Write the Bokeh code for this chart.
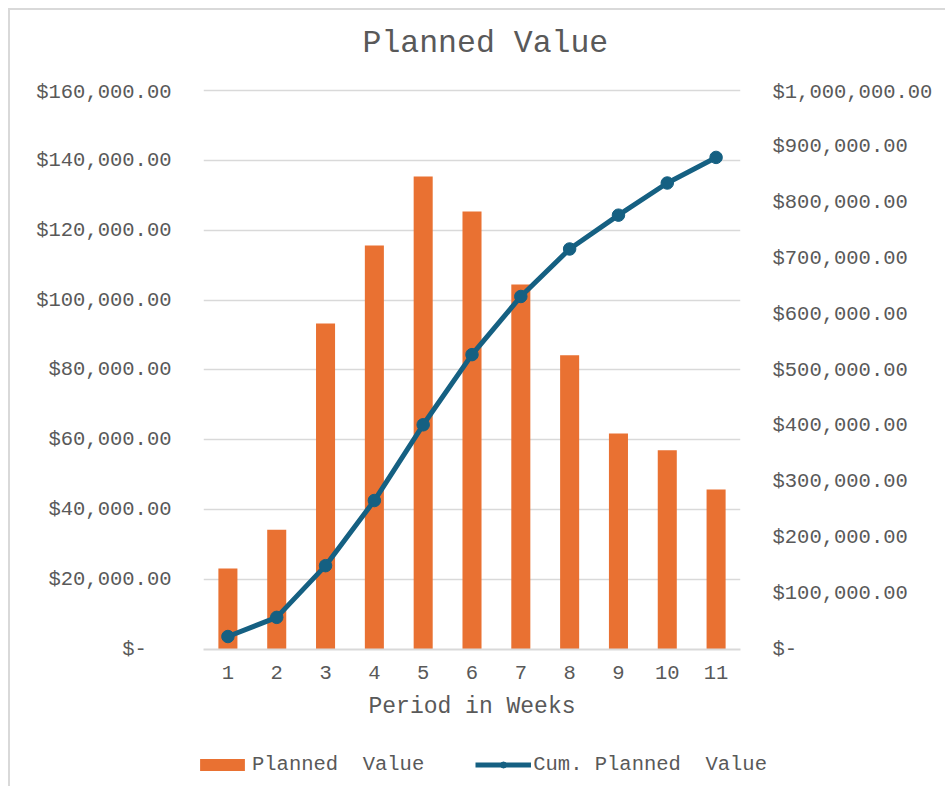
from bokeh.plotting import figure
from bokeh.layouts import column, row
from bokeh.models import (FactorRange, Range1d, LinearAxis, FixedTicker,
                          NumeralTickFormatter, Legend, LegendItem)
from bokeh.embed import file_html
from bokeh.resources import INLINE

weeks = ["1", "2", "3", "4", "5", "6", "7", "8", "9", "10", "11"]
planned_value = [23200, 34300, 93300, 115600, 135400, 125400, 104500, 84200, 61800, 57000, 45800]
cum_planned_value = [23200, 57500, 150000, 266500, 402000, 527500, 631500, 716500, 777000, 834500, 880300]
left_ticks = [0, 20000, 40000, 60000, 80000, 100000, 120000, 140000, 160000]
right_ticks = [0, 100000, 200000, 300000, 400000, 500000, 600000, 700000, 800000, 900000, 1000000]

FONT = "Liberation Mono"
TXT = "#595959"
GRID = "#D9D9D9"
ORANGE = "#E97132"
BLUE = "#156082"
FS = "20.5px"

W = 935

# title strip
tt = figure(width=W, height=70, x_range=Range1d(0, 1), y_range=Range1d(0, 1),
            output_backend="svg", toolbar_location=None, title="Planned Value",
            min_border_left=0, min_border_right=0, min_border_top=0, min_border_bottom=0)
tt.axis.visible = False
tt.grid.visible = False
tt.outline_line_color = None
tt.title.align = "left"
tt.title.offset = 352
tt.title.text_font = FONT
tt.title.text_font_size = "31.5px"
tt.title.text_font_style = "normal"
tt.title.text_color = TXT
tt.title.standoff = 27

# main chart (frame from 88 to 649 px; top grid line at 90 px)
p = figure(width=W, height=650, x_range=FactorRange(factors=weeks, range_padding=0),
           y_range=Range1d(0, 160572), output_backend="svg", toolbar_location=None,
           min_border_left=193, min_border_right=W - 730, min_border_top=8, min_border_bottom=81)
p.outline_line_color = None

p.extra_y_ranges = {"cum": Range1d(0, 1003578)}

bars = p.vbar(x=weeks, top=planned_value, width=0.39, color=ORANGE, line_color=None)
line = p.line(x=weeks, y=cum_planned_value, y_range_name="cum", line_color=BLUE, line_width=5)
pts = p.scatter(x=weeks, y=cum_planned_value, y_range_name="cum", size=12.5,
                fill_color=BLUE, line_color=BLUE)

ya = p.yaxis[0]
ya.ticker = FixedTicker(ticks=left_ticks)
ya.formatter = NumeralTickFormatter(format="$0,0.00")
ya.major_label_overrides = {0: "$-\u00a0\u00a0"}

ra = LinearAxis(y_range_name="cum", ticker=FixedTicker(ticks=right_ticks),
                formatter=NumeralTickFormatter(format="$0,0.00"))
ra.major_label_overrides = {0: "$-"}
p.add_layout(ra, "right")

for ax in (ya, ra):
    ax.axis_line_color = None
    ax.major_tick_line_color = None
    ax.minor_tick_line_color = None
    ax.major_label_text_font = FONT
    ax.major_label_text_font_size = FS
    ax.major_label_text_color = TXT
    ax.major_label_standoff = 26

xa = p.xaxis[0]
xa.axis_label = "Period in Weeks"
xa.axis_label_text_font = FONT
xa.axis_label_text_font_size = "23px"
xa.axis_label_text_font_style = "normal"
xa.axis_label_text_color = TXT
xa.axis_label_standoff = 12
xa.axis_line_color = GRID
xa.axis_line_width = 2
xa.major_tick_line_color = None
xa.minor_tick_line_color = None
xa.major_label_text_font = FONT
xa.major_label_text_font_size = FS
xa.major_label_text_color = TXT
xa.major_label_standoff = 10

p.xgrid.grid_line_color = None
p.ygrid.ticker = FixedTicker(ticks=left_ticks)
p.ygrid.grid_line_color = GRID
p.ygrid.grid_line_width = 1.5

# legend strip below the chart; its own copies of the series are hidden,
# the legend still draws their swatches
lg = figure(width=W, height=56, x_range=FactorRange(factors=weeks), y_range=Range1d(0, 1000000),
            output_backend="svg", toolbar_location=None,
            min_border_left=0, min_border_right=0, min_border_top=0, min_border_bottom=0)
lg.axis.visible = False
lg.grid.visible = False
lg.outline_line_color = None
lb = lg.vbar(x=weeks, top=planned_value, width=0.39, color=ORANGE, line_color=None, visible=False)
ll = lg.line(x=weeks, y=cum_planned_value, line_color=BLUE, line_width=5, visible=False)
lp = lg.scatter(x=weeks, y=cum_planned_value, size=12.5, fill_color=BLUE, line_color=BLUE, visible=False)

legend = Legend(items=[LegendItem(label="Planned  Value", renderers=[lb]),
                       LegendItem(label="Cum. Planned  Value", renderers=[ll, lp])],
                orientation="horizontal", location=(184, 10),
                glyph_width=56, glyph_height=15, label_standoff=2, spacing=51,
                padding=0, margin=0, border_line_color=None, background_fill_alpha=0,
                label_text_font=FONT, label_text_font_size=FS, label_text_color=TXT)
lg.add_layout(legend, "center")

layout = column(row(tt), p, row(lg), spacing=0)
layout.styles = {"margin-left": "8px", "margin-top": "8px",
                 "border-left": "2px solid #D9D9D9", "border-top": "2px solid #D9D9D9"}
open("out.html", "w").write(file_html(layout, INLINE))
